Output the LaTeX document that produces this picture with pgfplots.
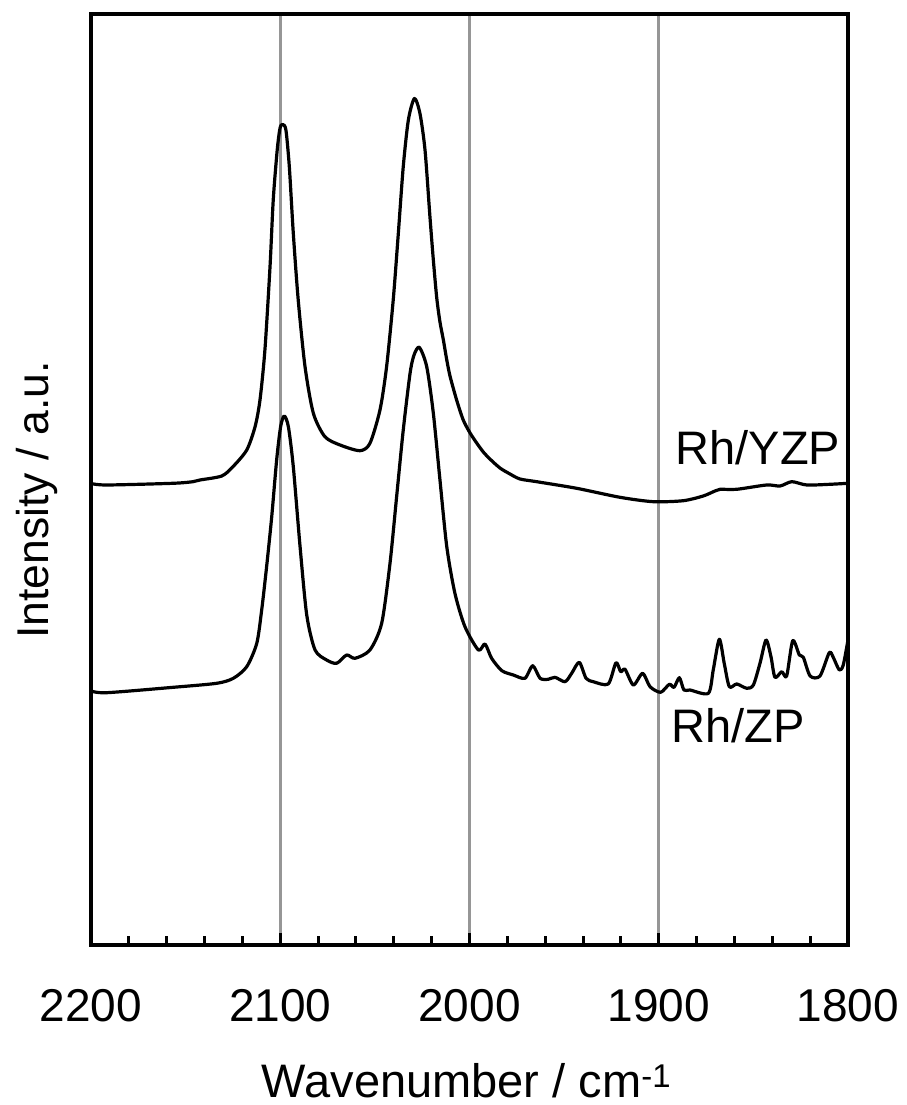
\documentclass[border=0pt]{standalone}
\usepackage{fontspec}
\setmainfont{Liberation Sans}
\usepackage{pgfplots}
\pgfplotsset{compat=1.18}
\definecolor{gridgray}{RGB}{150,150,150}
\begin{document}
\begin{tikzpicture}
\useasboundingbox (-91pt,-160pt) rectangle (816pt,945pt);
\begin{axis}[
 at={(0pt,0pt)}, anchor=south west,
 scale only axis, width=757pt, height=931pt,
 x dir=reverse, xmin=1800, xmax=2200, ymin=-1, ymax=930,
 xtick={1800,1900,2000,2100,2200}, minor x tick num=4,
 ytick=\empty,
 xtick pos=bottom, tick align=inside,
 major tick length=12pt, minor tick length=9pt,
 every tick/.style={black, line width=3pt},
 xmajorgrids, major grid style={color=gridgray, line width=2.6pt},
 axis line style={line width=3.6pt},
 /pgf/number format/assume math mode=true,
 /pgf/number format/1000 sep={},
 xticklabel style={font=\fontsize{46}{50}\selectfont, anchor=base, inner sep=0pt, yshift=-76pt},
 clip=false,
]
% Rh/YZP
\addplot[black, line width=3.2pt, line join=round, smooth, tension=0.45] coordinates {
(2200,460.5) (2191.7,459) (2156.7,460.7) (2146.1,462.3) (2142.4,464) (2130.9,468)
(2125.0,477.3) (2117.7,494) (2113.3,517.3) (2110.7,544) (2108.1,594) (2105.4,677.3)
(2103.7,744) (2101.6,794) (2100.1,816) (2098.7,819.5) (2097.0,814) (2095.2,777.3)
(2093.1,710.7) (2090.5,644) (2086.9,577.3) (2082.5,530.7) (2076.4,507.3) (2068.4,499)
(2057.9,493.3) (2052.6,500.7) (2047.3,534) (2043.8,577.3) (2040.3,644) (2037.6,710.7)
(2035.0,777.3) (2032.3,824) (2029.1,845.5) (2026.2,830.7) (2023.5,794) (2020.9,727.3)
(2019.1,684) (2017.3,646) (2015.6,622) (2013.8,604) (2012.0,584) (2010.3,568)
(2006.8,544) (2003.3,524) (1999.7,511)
(1996.2,501) (1992.7,492) (1989.2,485) (1983.9,476) (1978.6,470) (1973.3,465)
(1964.5,462.3) (1943.4,455.7) (1920.5,446.7) (1902.9,442.3) (1887.0,443.3) (1876.5,448)
(1870.3,453) (1867.6,454.7) (1858.8,454.7) (1843.0,459) (1835.9,458) (1829.7,462.3)
(1821.8,459) (1809.5,459.7) (1800,460.7)
};
% Rh/ZP
\addplot[black, line width=3.2pt, line join=round, smooth, tension=0.45] coordinates {
(2200,253) (2191.7,251.3) (2156.5,256.7) (2133.6,260.7) (2124.8,265.7) (2117.7,277.3)
(2112.4,300.7) (2109.8,334) (2107.2,377.3) (2104.5,427.3) (2101.9,484) (2099.8,517.3)
(2097.9,528) (2095.7,517.3) (2093.1,477.3) (2089.6,399) (2086.0,329) (2081.6,294)
(2075.5,284) (2070.2,280.7) (2064.9,289) (2060.5,285.7) (2052.6,294) (2046.4,320.7)
(2042.0,380.7) (2038.5,447.3) (2035.0,514) (2031.4,570.7) (2029.3,589) (2026.5,596.7)
(2022.6,577.3) (2019.1,530.7) (2015.6,464) (2012.0,397.3) (2007.7,350.7) (2002.4,317.3)
(1995.3,294) (1991.8,300) (1988.3,285.7) (1982.9,273.3) (1976.8,269) (1970.7,265.7)
(1966.6,278.3) (1962.7,265.7) (1958.4,264.7) (1954.8,266.7) (1949.5,262.3) (1946.0,270.7)
(1942.0,281.7) (1938.4,265.7) (1934.6,262.3) (1926.7,260) (1922.6,281.3) (1920.1,272.3)
(1917.8,274.7) (1913.4,259) (1908.5,270.7) (1904.6,257.3) (1899.0,251.7) (1894.4,259.7)
(1891.9,256.7) (1889.1,266.3) (1886.7,254) (1883.5,254) (1873.8,250.7) (1871.2,274)
(1868.0,304.7) (1865.4,280.7) (1862.7,257.3) (1858.8,260) (1853.5,255.7) (1850.0,259)
(1846.5,280.7) (1843.3,304) (1840.7,287.3) (1838.6,266.7) (1835.0,272.3) (1832.4,268)
(1829.2,303.3) (1825.7,289) (1823.6,286.7) (1820.0,268) (1814.8,268) (1809.9,291.3)
(1807.8,286.7) (1804.6,274) (1802.5,279) (1800,304)
};
\node[anchor=base, inner sep=0pt, font=\fontsize{47}{50}\selectfont] at (axis cs:1847.6,479) {Rh/YZP};
\node[anchor=base, inner sep=0pt, font=\fontsize{47}{50}\selectfont] at (axis cs:1858.1,201) {Rh/ZP};
\node[anchor=base, inner sep=0pt, font=\fontsize{47}{50}\selectfont] at ([xshift=-3pt,yshift=-152pt]rel axis cs:0.5,0) {Wavenumber / cm\textsuperscript{-1}};
\node[rotate=90, anchor=base, inner sep=0pt, font=\fontsize{44.5}{50}\selectfont] at ([xshift=-42pt]rel axis cs:0,0.478) {Intensity / a.u.};
\end{axis}
\end{tikzpicture}
\end{document}
